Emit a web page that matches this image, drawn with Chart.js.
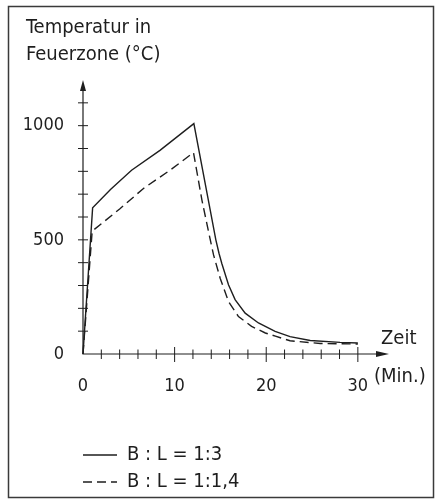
<!DOCTYPE html>
<html><head><meta charset="utf-8">
<script src="https://cdn.jsdelivr.net/npm/chart.js@4.4.1/dist/chart.umd.min.js"></script>
<style>html,body{margin:0;padding:0;background:#fff}#wrap{width:436px;height:504px}</style>
</head><body><div id="wrap"><canvas id="c" width="436" height="504"></canvas></div>
<script>
// ---- data ----
const seriesNames = ['B : L = 1:3', 'B : L = 1:1,4'];
const timeSolid  = [0, 1.05, 3, 5.3, 8.4, 12.1, 13.65, 14.5, 14.85, 15.16, 15.88, 16.6, 17.7, 19.15, 20.97, 22.6, 24.8, 28.06, 30];
const tempSolid  = [0, 640, 720, 805, 892, 1009, 680, 500, 440, 395, 303, 238, 179, 136, 99, 76, 59, 51, 48];
const timeDashed = [0, 1.0, 4, 6.6, 9.5, 12.06, 12.98, 13.7, 14.25, 14.97, 15.88, 16.97, 18.4, 19.9, 21.0, 22.6, 25.9, 30];
const tempDashed = [0, 538, 635, 725, 805, 882, 674, 536, 434, 332, 230, 164, 121, 92, 78, 58, 46, 44];
const xTickLabels = [0, 10, 20, 30];
const yTickLabels = [0, 500, 1000];
const yAxisTitle = ['Temperatur in', 'Feuerzone (°C)'];
const xAxisTitle = ['Zeit', '(Min.)'];

const FONT = "'DejaVu Sans Condensed', 'DejaVu Sans', sans-serif";
const INK = '#1e1e1e';

const toPts = (xs, ys) => xs.map((v, i) => ({x: v, y: ys[i]}));

const axesPlugin = {
  id: 'axesDraw',
  beforeDatasetsDraw(chart) {
    const {ctx, scales: {x, y}} = chart;
    const x0 = x.getPixelForValue(0), y0 = y.getPixelForValue(0);
    const yTop = y.getPixelForValue(y.max), xEnd = x.getPixelForValue(x.max);
    ctx.save();
    ctx.strokeStyle = INK; ctx.fillStyle = INK; ctx.lineWidth = 1.2;
    ctx.beginPath();
    ctx.moveTo(x0, y0 + 0.5); ctx.lineTo(x0, yTop + 6);
    ctx.moveTo(x0 - 0.5, y0); ctx.lineTo(xEnd - 6, y0);
    ctx.stroke();
    // arrows
    ctx.beginPath();
    ctx.moveTo(x0, yTop); ctx.lineTo(x0 - 3, yTop + 11); ctx.lineTo(x0 + 3, yTop + 11); ctx.closePath(); ctx.fill();
    ctx.beginPath();
    ctx.moveTo(xEnd, y0); ctx.lineTo(xEnd - 13, y0 - 3); ctx.lineTo(xEnd - 13, y0 + 3); ctx.closePath(); ctx.fill();
    // tick marks
    ctx.lineWidth = 1;
    ctx.beginPath();
    y.ticks.forEach(t => {
      if (t.value <= 0 || t.value >= y.max) return;
      const py = y.getPixelForValue(t.value);
      ctx.moveTo(x0 - 5, py); ctx.lineTo(x0 + 5, py);
    });
    x.ticks.forEach(t => {
      if (t.value <= 0 || t.value >= x.max) return;
      const px = x.getPixelForValue(t.value);
      const major = xTickLabels.includes(t.value);
      ctx.moveTo(px, y0 - (major ? 7 : 4.5)); ctx.lineTo(px, y0 + (major ? 8 : 5));
    });
    ctx.stroke();
    ctx.restore();
  },
  afterDraw(chart) {
    const {ctx, data} = chart;
    ctx.save();
    // frame
    ctx.strokeStyle = '#3a3a3a'; ctx.lineWidth = 1.5;
    ctx.strokeRect(8.5, 6.5, 425, 491);
    ctx.fillStyle = INK;
    ctx.font = `20px ${FONT}`;
    ctx.textBaseline = 'middle'; ctx.textAlign = 'left';
    ctx.fillText(yAxisTitle[0], 26, 28);
    ctx.fillText(yAxisTitle[1], 26, 55);
    ctx.fillText(xAxisTitle[0], 381, 339);
    ctx.fillText(xAxisTitle[1], 374, 377);
    // legend
    const rows = [455, 482];
    data.datasets.forEach((ds, i) => {
      ctx.save();
      ctx.strokeStyle = ds.borderColor; ctx.lineWidth = ds.borderWidth;
      ctx.setLineDash(ds.borderDash || []);
      ctx.beginPath(); ctx.moveTo(83, rows[i]); ctx.lineTo(117, rows[i]); ctx.stroke();
      ctx.restore();
      ctx.fillText(ds.label, 127, rows[i]);
    });
    ctx.restore();
  }
};

new Chart(document.getElementById('c'), {
  type: 'line',
  data: {
    datasets: [
      {label: seriesNames[0], data: toPts(timeSolid, tempSolid), borderColor: INK, borderWidth: 1.4,
       pointRadius: 0, tension: 0, fill: false, clip: false},
      {label: seriesNames[1], data: toPts(timeDashed, tempDashed), borderColor: INK, borderWidth: 1.4,
       borderDash: [9, 5], pointRadius: 0, tension: 0, fill: false, clip: false}
    ]
  },
  options: {
    responsive: false, animation: false, devicePixelRatio: 1,
    layout: {padding: {top: 80, right: 47, left: 0, bottom: 0}},
    plugins: {legend: {display: false}, tooltip: {enabled: false}},
    scales: {
      x: {
        type: 'linear', min: 0, max: 33.4,
        afterFit: s => { s.height = 150; },
        grid: {display: false, drawTicks: false}, border: {display: false},
        ticks: {stepSize: 2, autoSkip: false, maxRotation: 0, padding: 22, color: INK,
                font: {family: FONT, size: 18},
                callback: v => xTickLabels.includes(v) ? String(v) : ''}
      },
      y: {
        type: 'linear', min: 0, max: 1200,
        afterFit: s => { s.width = 83; },
        grid: {display: false, drawTicks: false}, border: {display: false},
        ticks: {stepSize: 100, autoSkip: false, padding: 19, color: INK,
                font: {family: FONT, size: 18},
                callback: v => yTickLabels.includes(v) ? String(v) : ''}
      }
    }
  },
  plugins: [axesPlugin]
});
</script></body></html>
